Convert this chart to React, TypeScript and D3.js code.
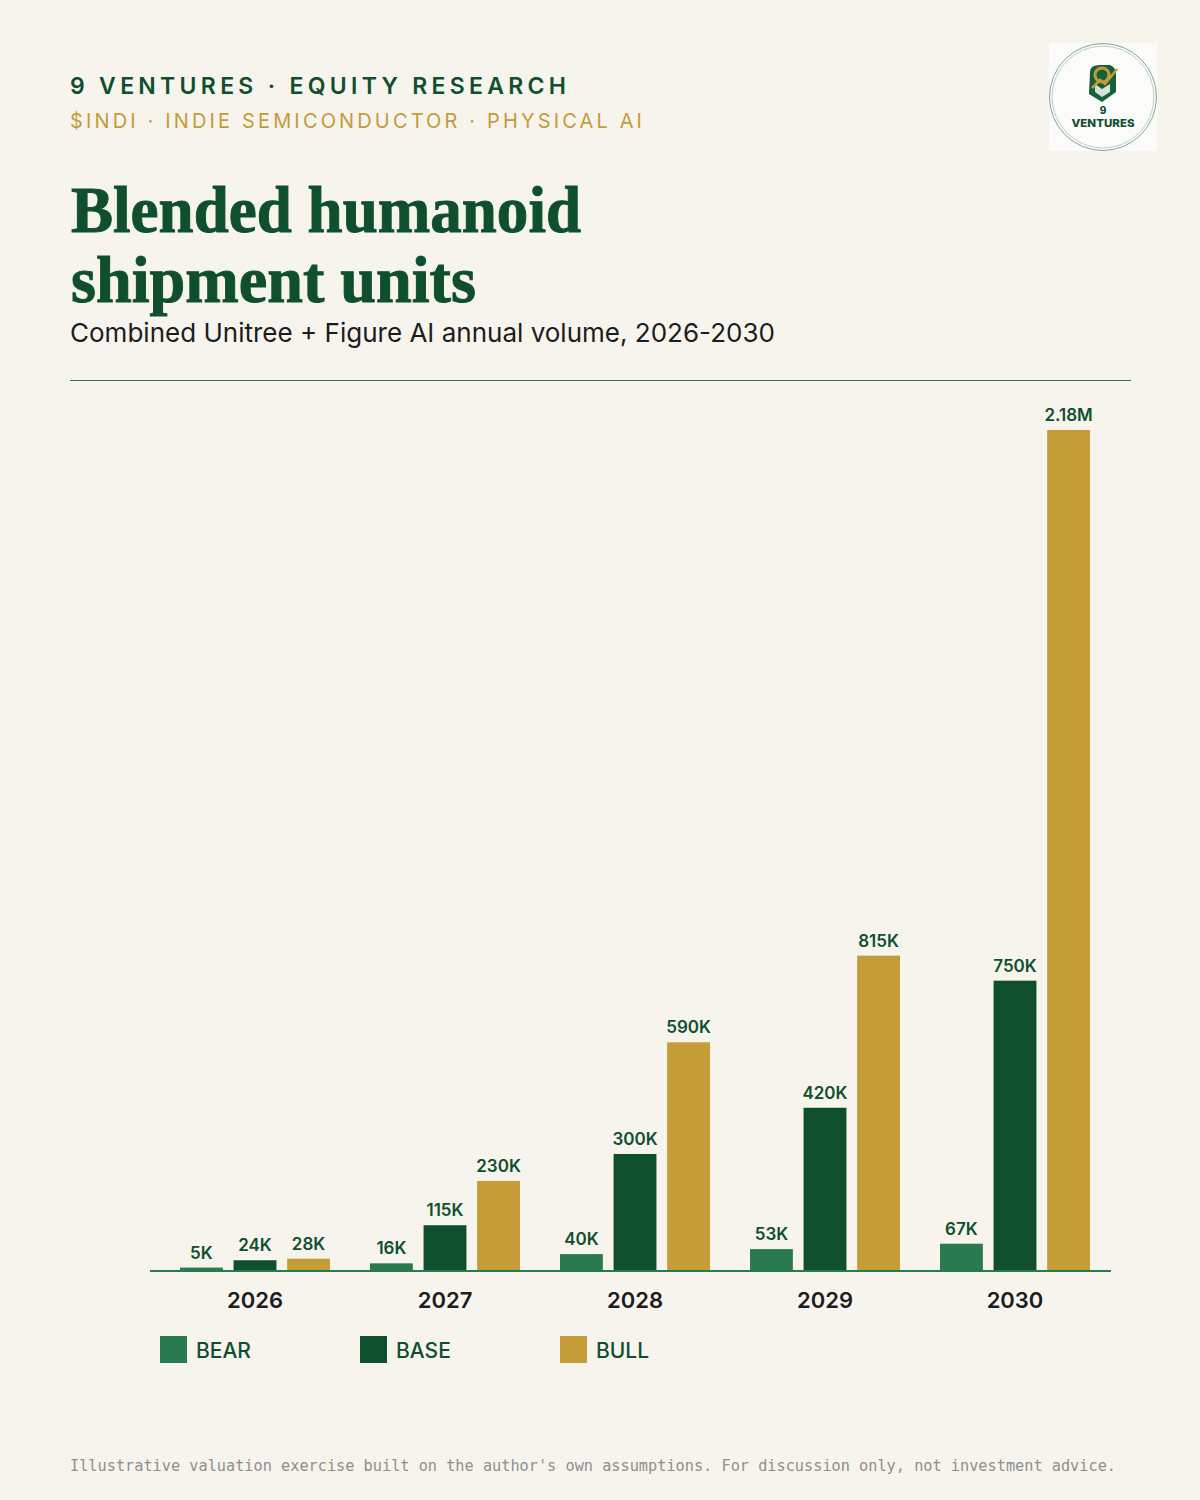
import React, { useEffect, useRef } from 'react';
import * as d3 from 'd3';

const years = ['2026', '2027', '2028', '2029', '2030'];
const scenarios = ['BEAR', 'BASE', 'BULL'];
const bearValues = [5, 16, 40, 53, 67];
const baseValues = [24, 115, 300, 420, 750];
const bullValues = [28, 230, 590, 815, 2180];
const bearLabels = ['5K', '16K', '40K', '53K', '67K'];
const baseLabels = ['24K', '115K', '300K', '420K', '750K'];
const bullLabels = ['28K', '230K', '590K', '815K', '2.18M'];

const GREEN = '#0f4f2e';
const MID = '#2a7a50';
const GOLD = '#c49c38';
const BG = '#f7f4ee';
const INK = '#1c1c1c';

const SANS = 'Inter, "Noto Sans", sans-serif';
const SERIF = '"Liberation Serif", "DejaVu Serif", serif';
const MONO = '"DejaVu Sans Mono", "Liberation Mono", monospace';

export default function App() {
  const svgRef = useRef<SVGSVGElement>(null);

  useEffect(() => {
    if (!svgRef.current) return;
    const svg = d3.select(svgRef.current);
    svg.selectAll('*').remove();

    svg.append('rect').attr('width', 1200).attr('height', 1500).attr('fill', BG);

    const text = (x: number, y: number, s: string, font: string, size: number, weight: number, fill: string, extra: any = {}) => {
      const t = svg.append('text')
        .attr('x', x).attr('y', y)
        .attr('font-family', font).attr('font-size', size).attr('font-weight', weight)
        .attr('fill', fill).text(s);
      Object.keys(extra).forEach(k => t.attr(k, extra[k]));
      return t;
    };

    // Header
    text(70, 94, '9 VENTURES · EQUITY RESEARCH', SANS, 23, 600, GREEN, { textLength: 496, lengthAdjust: 'spacing' });
    text(70, 128, '$INDI · INDIE SEMICONDUCTOR · PHYSICAL AI', SANS, 20, 400, GOLD, { textLength: 572, lengthAdjust: 'spacing' });
    text(71, 232, 'Blended humanoid', SERIF, 66, 700, GREEN, { textLength: 510, lengthAdjust: 'spacingAndGlyphs', stroke: GREEN, 'stroke-width': 1 });
    text(71, 302, 'shipment units', SERIF, 66, 700, GREEN, { textLength: 405, lengthAdjust: 'spacingAndGlyphs', stroke: GREEN, 'stroke-width': 1 });
    text(70, 342, 'Combined Unitree + Figure AI annual volume, 2026-2030', SANS, 26, 400, INK, { textLength: 705, lengthAdjust: 'spacingAndGlyphs' });
    svg.append('line').attr('x1', 70).attr('x2', 1131).attr('y1', 380.5).attr('y2', 380.5)
      .attr('stroke', MID).attr('stroke-width', 1);

    // Logo
    const logo = svg.append('g');
    logo.append('rect').attr('x', 1049).attr('y', 43).attr('width', 108).attr('height', 108).attr('fill', '#fbfbfa');
    logo.append('circle').attr('cx', 1103).attr('cy', 97).attr('r', 53.5).attr('fill', 'none').attr('stroke', '#7fa594').attr('stroke-width', 1);
    logo.append('circle').attr('cx', 1103).attr('cy', 97).attr('r', 51).attr('fill', 'none').attr('stroke', '#a9c3b7').attr('stroke-width', 0.8);
    logo.append('path').attr('d', 'M1090 72 Q1090 65 1100 65 L1110 65 Q1117 68 1116 76 L1116 92 L1102 102 L1089 94 Z').attr('fill', '#14603a');
    logo.append('path').attr('d', 'M1095 84 L1102 89 L1110 84 L1110 92 L1102 97 L1095 92 Z').attr('fill', '#d5e2da');
    logo.append('circle').attr('cx', 1102).attr('cy', 75).attr('r', 7).attr('fill', 'none').attr('stroke', GOLD).attr('stroke-width', 3);
    logo.append('path').attr('d', 'M1092 88 L1100 80 L1105 84 L1117 69').attr('fill', 'none').attr('stroke', GOLD).attr('stroke-width', 2.5);
    text(1103, 114, '9', SANS, 10, 800, GREEN, { 'text-anchor': 'middle' });
    text(1103, 126.5, 'VENTURES', SANS, 10.5, 800, GREEN, { 'text-anchor': 'middle', textLength: 63, lengthAdjust: 'spacingAndGlyphs' });

    // Scales
    const baseY = 1271;
    const x0 = d3.scaleBand<string>().domain(years).range([160, 1110]);
    const x1 = d3.scaleBand<string>().domain(scenarios).range([20, 170]).paddingInner(0.2);
    const y = d3.scaleLinear().domain([0, 2180]).range([1269.5, 430]);
    const color = d3.scaleOrdinal<string, string>().domain(scenarios).range([MID, GREEN, GOLD]);

    const series = [
      { key: 'BEAR', values: bearValues, labels: bearLabels },
      { key: 'BASE', values: baseValues, labels: baseLabels },
      { key: 'BULL', values: bullValues, labels: bullLabels },
    ];

    // Bars and value labels
    series.forEach(s => {
      const rows = years.map((yr, i) => ({ yr, v: s.values[i], label: s.labels[i] }));
      const xPos = (yr: string) => (x0(yr) as number) + (x1(s.key) as number);

      svg.append('g').selectAll('rect').data(rows).enter().append('rect')
        .attr('x', d => xPos(d.yr))
        .attr('y', d => y(d.v))
        .attr('width', x1.bandwidth())
        .attr('height', d => baseY - y(d.v))
        .attr('fill', color(s.key));

      svg.append('g').selectAll('text').data(rows).enter().append('text')
        .attr('x', d => xPos(d.yr) + x1.bandwidth() / 2)
        .attr('y', d => y(d.v) - 9)
        .attr('text-anchor', 'middle')
        .attr('font-family', SANS).attr('font-size', 17).attr('font-weight', 600)
        .attr('fill', GREEN)
        .text(d => d.label);
    });

    // Axis
    const axis = svg.append('g')
      .attr('transform', `translate(0,${baseY})`)
      .call(d3.axisBottom(x0).tickSize(0).tickPadding(21));
    axis.select('.domain').remove();
    axis.selectAll('text')
      .attr('font-family', SANS).attr('font-size', 22).attr('font-weight', 600).attr('fill', INK);
    svg.append('line').attr('x1', 150).attr('x2', 1111).attr('y1', baseY).attr('y2', baseY)
      .attr('stroke', MID).attr('stroke-width', 2);

    // Legend
    const legendX = d3.scalePoint<string>().domain(scenarios).range([160, 560]);
    const legend = svg.append('g').selectAll('g').data(scenarios).enter().append('g')
      .attr('transform', d => `translate(${legendX(d)},1336)`);
    legend.append('rect').attr('width', 27).attr('height', 27).attr('fill', d => color(d));
    legend.append('text').attr('x', 36).attr('y', 21.5)
      .attr('font-family', SANS).attr('font-size', 21).attr('font-weight', 500).attr('fill', GREEN)
      .text(d => d);

    // Footnote
    text(70, 1471, "Illustrative valuation exercise built on the author's own assumptions. For discussion only, not investment advice.",
      MONO, 15, 400, '#8f8f8a', { textLength: 1046, lengthAdjust: 'spacingAndGlyphs' });
  }, []);

  return <svg ref={svgRef} width={1200} height={1500} style={{ position: 'absolute', left: 0, top: 0 }} />;
}
